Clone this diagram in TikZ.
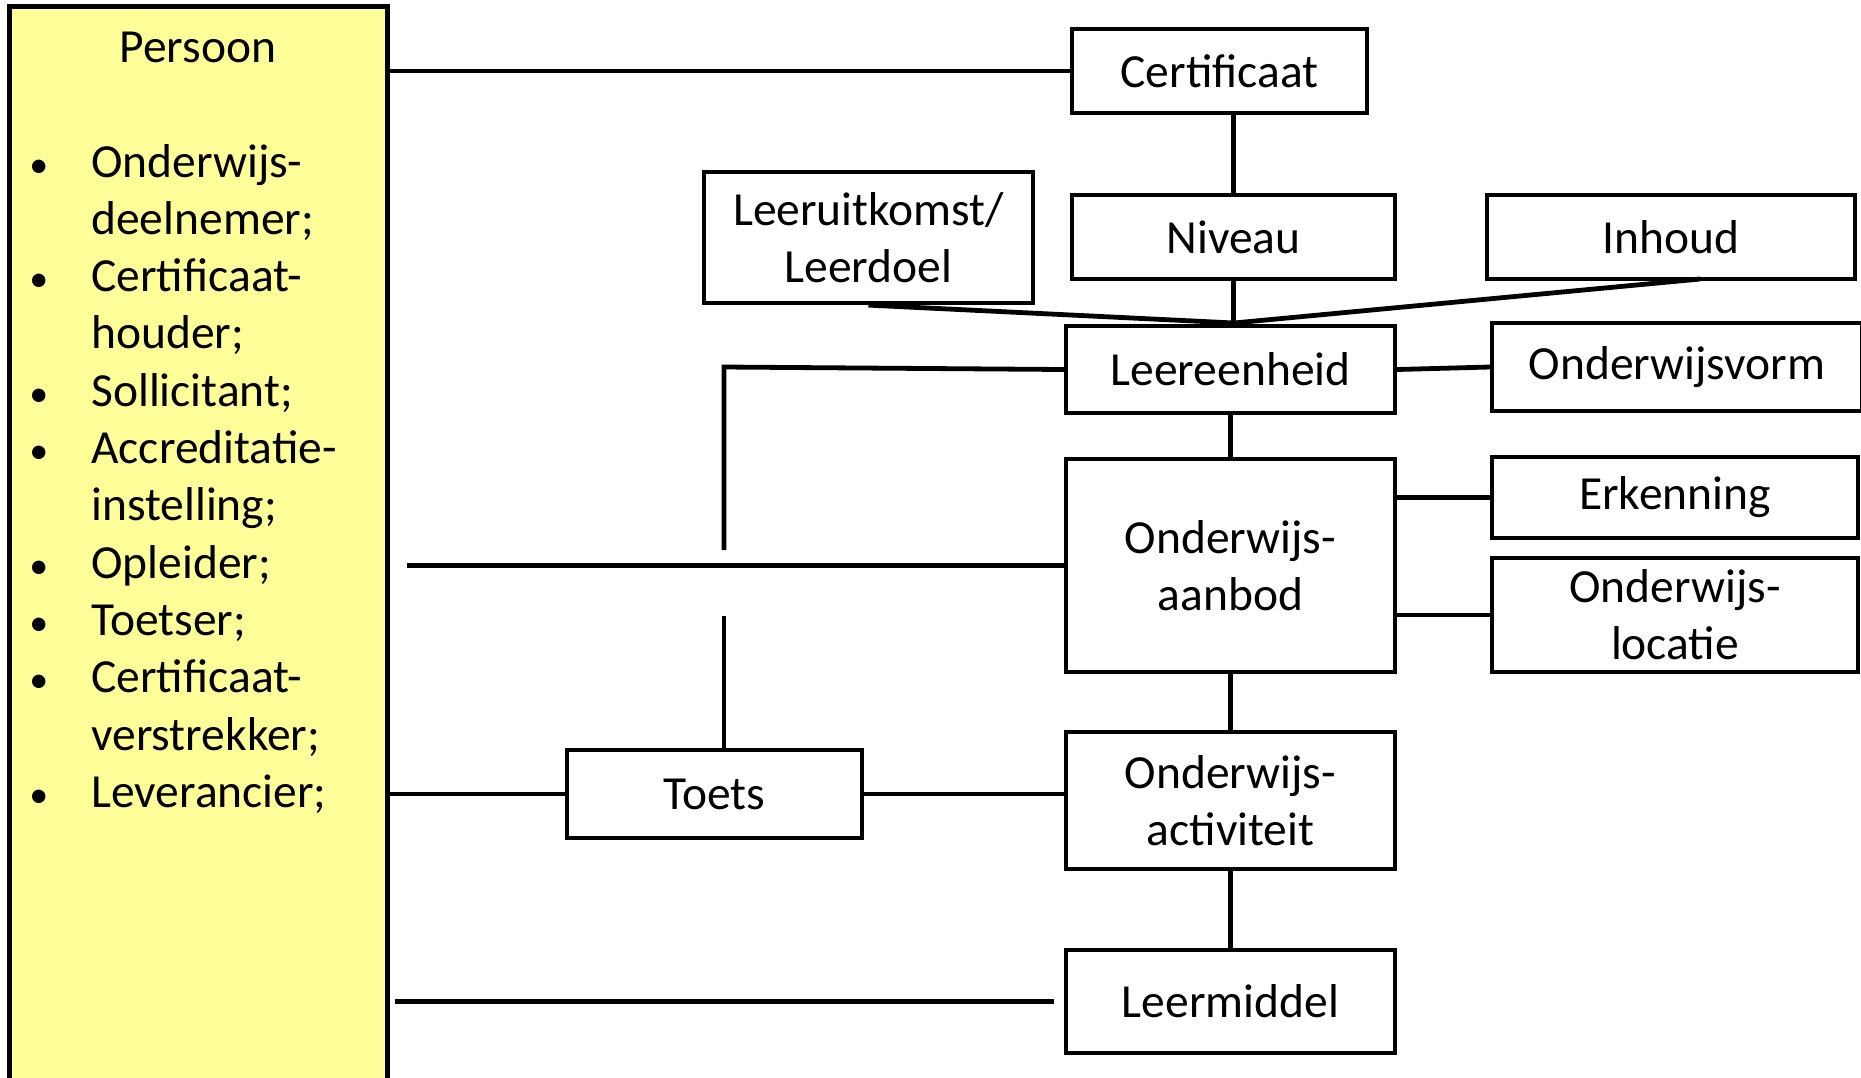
\documentclass[tikz,border=0pt]{standalone}
\usepackage{fontspec}
\setmainfont{Carlito}
\usetikzlibrary{calc}
\definecolor{persoonyellow}{RGB}{255,255,153}
\newcommand\mybul{\llap{\makebox[0pt][c]{\fontsize{19pt}{0pt}\selectfont\textbullet}\hspace{26.25pt}}}
\tikzset{
  lbl/.style={font=\fontsize{23.75pt}{28.65pt}\selectfont},
  box/.style={draw=black, line width=2.1pt, fill=white, inner sep=0pt, align=center,
    lbl, rectangle},
  conn/.style={draw=black, line width=2.4pt},
}
\begin{document}
\begin{tikzpicture}[x=0.5pt,y=-0.5pt]
\useasboundingbox (0,0) rectangle (1861,1077);
% Persoon box
\node[box, fill=persoonyellow, line width=2.5pt, minimum width=188.75pt, minimum height=544.5pt] (persoon) at (198.25,550.5) {};
\node[lbl, anchor=base, inner sep=0pt] (ptitle) at (198,62) {Persoon};
\node[lbl, anchor=base west, inner sep=0pt] (plist) at (91,177) {%
\begin{tabular}[t]{@{}l@{}}
\mybul Onderwijs-\\
deelnemer;\\
\mybul Certificaat-\\
houder;\\
\mybul Sollicitant;\\
\mybul Accreditatie-\\
instelling;\\
\mybul Opleider;\\
\mybul Toetser;\\
\mybul Certificaat-\\
verstrekker;\\
\mybul Leverancier;
\end{tabular}};
% Boxes
\node[box, minimum width=147.5pt, minimum height=42.25pt] (cert) at (1219.5,71) {Certificaat};
\node[box, minimum width=164.5pt, minimum height=65.5pt] (leeruit) at (868.5,237.5) {Leeruitkomst/\\Leerdoel};
\node[box, minimum width=161.5pt, minimum height=42pt] (niveau) at (1233.5,237) {Niveau};
\node[box, minimum width=184pt, minimum height=42pt] (inhoud) at (1671,237) {Inhoud};
\node[box, minimum width=164.5pt, minimum height=43.5pt] (eenheid) at (1230.5,369.5) {Leereenheid};
\node[box, minimum width=185pt, minimum height=44pt] (vorm) at (1677,367) {Onderwijsvorm};
\node[box, minimum width=164.5pt, minimum height=106.5pt] (aanbod) at (1230.5,565.5) {Onderwijs-\\aanbod};
\node[box, minimum width=183pt, minimum height=40.5pt] (erk) at (1675,497.5) {Erkenning};
\node[box, minimum width=183pt, minimum height=57pt] (loc) at (1675,615) {Onderwijs-\\locatie};
\node[box, minimum width=164.5pt, minimum height=68.5pt] (act) at (1230.5,800.5) {Onderwijs-\\activiteit};
\node[box, minimum width=147.5pt, minimum height=44pt] (toets) at (714.5,794) {Toets};
\node[box, minimum width=164.5pt, minimum height=51.5pt] (leer) at (1230.5,1001.5) {Leermiddel};
% Coordinates
\coordinate (J) at (1234,323);
\coordinate (inhoudfoot) at (1700,279);
\coordinate (bend) at (724,367);
\coordinate (gapTop) at (724,550);
\coordinate (gapBot) at (724,616);
% Connectors
\draw[conn] (cert.west -| persoon.east) -- (cert.west);
\draw[conn] (niveau.north |- cert.south) -- (niveau.north);
\draw[conn] (niveau.south) -- (niveau.south |- eenheid.north);
\draw[conn] (leeruit.south) -- (J);
\draw[conn] (inhoudfoot) -- (J);
\draw[conn] (eenheid.east) -- (vorm.west);
\draw[conn] (eenheid.west) -- (bend) -- (gapTop);
\draw[conn] (gapBot) -- (gapBot |- toets.north);
\draw[conn, shorten <=8.5pt] (aanbod.west -| persoon.east) -- (aanbod.west);
\draw[conn] (eenheid.south) -- (aanbod.north);
\draw[conn] (erk.west -| aanbod.east) -- (erk.west);
\draw[conn] (loc.west -| aanbod.east) -- (loc.west);
\draw[conn] (aanbod.south) -- (act.north);
\draw[conn] (toets.west -| persoon.east) -- (toets.west);
\draw[conn] (toets.east) -- (toets.east -| act.west);
\draw[conn] (act.south) -- (leer.north);
\draw[conn, shorten <=2.5pt, shorten >=5pt] (leer.west -| persoon.east) -- (leer.west);
\end{tikzpicture}
\end{document}
